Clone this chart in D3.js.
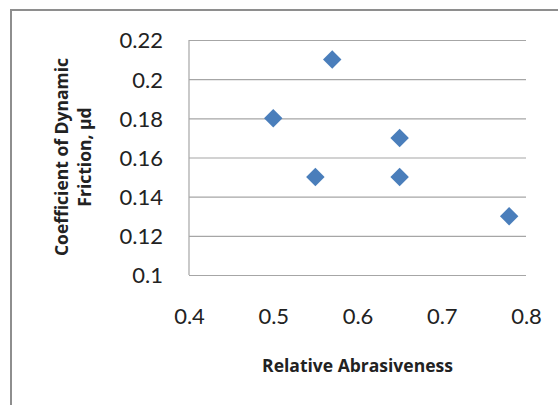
<!DOCTYPE html>
<html>
<head>
<meta charset="utf-8">
<script src="https://cdn.jsdelivr.net/npm/d3@7"></script>
<style>
  body { margin: 0; background: #fff; }
  svg text { font-family: Lato, "Open Sans", sans-serif; fill: #222; }
  svg text.title { font-family: "Open Sans", Lato, sans-serif; }
</style>
</head>
<body>
<svg id="chart" width="558" height="405"></svg>
<script>
const abrasiveness = [0.5, 0.55, 0.57, 0.65, 0.65, 0.78];
const friction = [0.18, 0.15, 0.21, 0.17, 0.15, 0.13];
const xTicks = [0.4, 0.5, 0.6, 0.7, 0.8];
const yTicks = [0.1, 0.12, 0.14, 0.16, 0.18, 0.2, 0.22];

const svg = d3.select('#chart');
const plot = {left: 189, top: 40, right: 526, bottom: 275};

// outer chart border (right/bottom run off the picture)
svg.append('path')
    .attr('d', 'M11,405 L11,10 L558,10')
    .attr('fill', 'none')
    .attr('stroke', '#8e8e8e')
    .attr('stroke-width', 2);

const x = d3.scaleLinear().domain([0.4, 0.8]).range([plot.left, plot.right]);
const y = d3.scaleLinear().domain([0.1, 0.22]).range([plot.bottom, plot.top]);

const yAxis = svg.append('g')
    .attr('transform', `translate(${plot.left},0)`)
    .call(d3.axisLeft(y).tickValues(yTicks).tickSize(-(plot.right - plot.left)).tickPadding(26)
        .tickFormat(d => d3.format('')(+d.toFixed(2))));
yAxis.select('.domain').remove();
yAxis.selectAll('line').attr('stroke', '#a6a6a6').attr('stroke-width', 1.2);
yAxis.selectAll('text').attr('font-size', 22).attr('dy', '0.36em');

svg.append('line')
    .attr('x1', plot.left).attr('x2', plot.left)
    .attr('y1', plot.top).attr('y2', plot.bottom)
    .attr('stroke', '#a6a6a6').attr('stroke-width', 1.2);

const xAxis = svg.append('g')
    .attr('transform', `translate(0,${plot.bottom})`)
    .call(d3.axisBottom(x).tickValues(xTicks).tickSize(0).tickPadding(33).tickFormat(d3.format('.1f')));
xAxis.select('.domain').remove();
xAxis.selectAll('text').attr('font-size', 22);

svg.selectAll('.pt')
    .data(abrasiveness.map((a, i) => [a, friction[i]]))
    .join('path')
    .attr('class', 'pt')
    .attr('d', d3.symbol(d3.symbolSquare, 170))
    .attr('transform', d => `translate(${x(d[0])},${y(d[1])}) rotate(45)`)
    .attr('fill', '#4a7ebb');

svg.append('text')
    .attr('class', 'title')
    .attr('x', (plot.left + plot.right) / 2)
    .attr('y', 372)
    .attr('text-anchor', 'middle')
    .attr('font-size', 17.5)
    .attr('font-weight', 'bold')
    .text('Relative Abrasiveness');

const yt = svg.append('text')
    .attr('class', 'title')
    .attr('transform', 'translate(0,157) rotate(-90)')
    .attr('text-anchor', 'middle')
    .attr('font-size', 17.5)
    .attr('font-weight', 'bold');
yt.append('tspan').attr('x', 0).attr('y', 68).text('Coefficient of Dynamic');
yt.append('tspan').attr('x', 0).attr('y', 91).text('Friction, µd');
</script>
</body>
</html>
